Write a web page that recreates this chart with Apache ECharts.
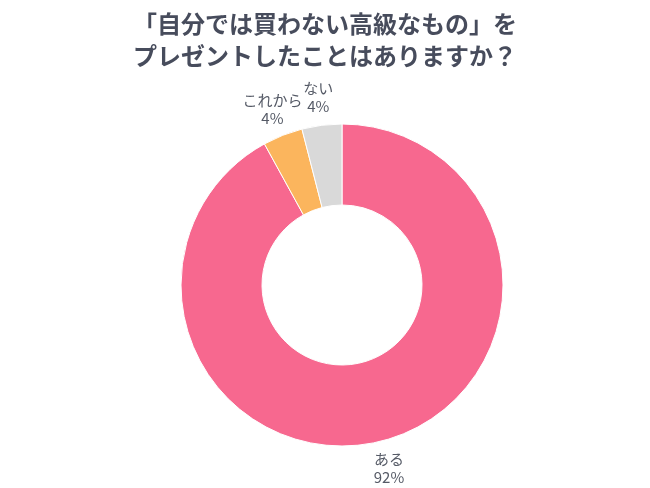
<!DOCTYPE html>
<html>
<head>
<meta charset="utf-8">
<script src="https://cdn.jsdelivr.net/npm/echarts@6/dist/echarts.min.js"></script>
<style>html,body{margin:0;padding:0;background:#fff;}#c{width:650px;height:488px;}</style>
</head>
<body>
<div id="c"></div>
<script>
const titleText = "「自分では買わない高級なもの」を\nプレゼントしたことはありますか？";
const categories = ["ある", "これから", "ない"];
const values = [92, 4, 4];
const colors = ["#F7688F", "#FBB55D", "#D9D9D9"];

const data = categories.map((name, i) => ({ name, value: values[i], itemStyle: { color: colors[i] } }));
const labelData = categories.map((name, i) => ({ name, value: values[i] }));

const chart = echarts.init(document.getElementById('c'));
chart.setOption({
  backgroundColor: '#fff',
  animation: false,
  title: {
    text: titleText,
    left: 'center',
    top: 3,
    textStyle: {
      fontFamily: 'Noto Sans CJK JP',
      fontSize: 24,
      fontWeight: 'bold',
      lineHeight: 32,
      color: '#474C5C'
    }
  },
  series: [
    {
      type: 'pie',
      center: [342, 285],
      radius: [80, 161],
      startAngle: 90,
      clockwise: true,
      silent: true,
      label: { show: false },
      labelLine: { show: false },
      itemStyle: { borderColor: '#fff', borderWidth: 1 },
      data: data
    },
    {
      type: 'pie',
      center: [342, 285],
      radius: [172, 200],
      startAngle: 90,
      clockwise: true,
      silent: true,
      itemStyle: { color: 'rgba(0,0,0,0)' },
      label: {
        show: true,
        position: 'inside',
        formatter: '{b}\n{c}%',
        fontFamily: 'Noto Sans CJK JP',
        fontSize: 15,
        lineHeight: 18,
        color: '#555A66'
      },
      labelLine: { show: false },
      data: labelData
    }
  ]
});
</script>
</body>
</html>
